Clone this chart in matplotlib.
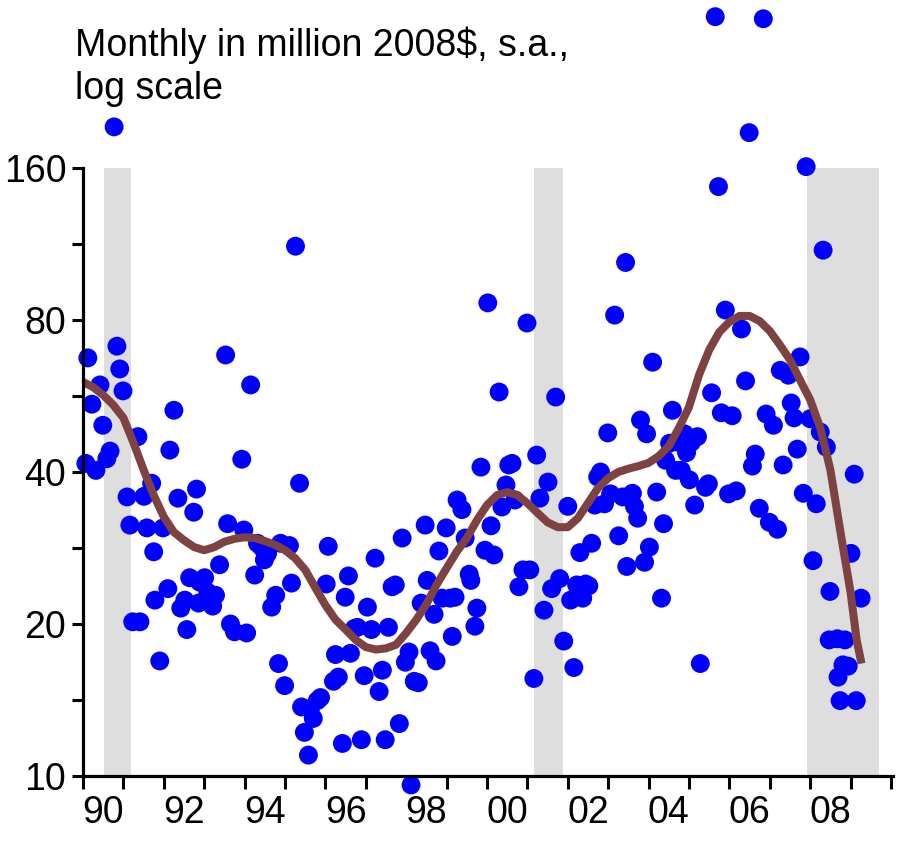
import matplotlib
matplotlib.use("Agg")
import matplotlib.pyplot as plt
from matplotlib.ticker import FixedLocator, NullFormatter, FixedFormatter
import numpy as np

plt.rcParams['font.family'] = ['Liberation Sans', 'DejaVu Sans']

# Monthly observations (decimal year, million 2008$)
obs_year = [
    1990.07, 1990.12, 1990.22, 1990.32, 1990.42, 1990.49, 1990.59, 1990.67, 1990.77, 1990.84,
    1990.91, 1990.99, 1991.09, 1991.16, 1991.23, 1991.36, 1991.41, 1991.51, 1991.58, 1991.70,
    1991.75, 1991.78, 1991.90, 1991.98, 1992.10, 1992.15, 1992.25, 1992.35, 1992.42, 1992.52,
    1992.57, 1992.64, 1992.74, 1992.81, 1992.86, 1992.89, 1993.01, 1993.09, 1993.21, 1993.28,
    1993.38, 1993.53, 1993.58, 1993.65, 1993.75, 1993.93, 1993.98, 1994.05, 1994.15, 1994.25,
    1994.32, 1994.42, 1994.49, 1994.57, 1994.67, 1994.77, 1994.84, 1994.89, 1994.99, 1995.11,
    1995.16, 1995.26, 1995.36, 1995.41, 1995.48, 1995.58, 1995.63, 1995.70, 1995.80, 1995.88,
    1996.02, 1996.07, 1996.20, 1996.25, 1996.32, 1996.42, 1996.49, 1996.57, 1996.62, 1996.72,
    1996.79, 1996.89, 1996.96, 1997.04, 1997.14, 1997.23, 1997.33, 1997.41, 1997.48, 1997.56,
    1997.65, 1997.73, 1997.83, 1997.90, 1997.98, 1998.07, 1998.12, 1998.20, 1998.30, 1998.37,
    1998.47, 1998.52, 1998.59, 1998.69, 1998.74, 1998.81, 1998.89, 1998.99, 1999.09, 1999.14,
    1999.21, 1999.26, 1999.38, 1999.46, 1999.56, 1999.60, 1999.70, 1999.75, 1999.85, 1999.95,
    2000.02, 2000.10, 2000.17, 2000.30, 2000.37, 2000.47, 2000.54, 2000.62, 2000.69, 2000.79,
    2000.89, 2000.99, 2001.06, 2001.16, 2001.23, 2001.31, 2001.41, 2001.51, 2001.60, 2001.70,
    2001.80, 2001.90, 2002.00, 2002.07, 2002.15, 2002.22, 2002.30, 2002.37, 2002.44, 2002.52,
    2002.59, 2002.67, 2002.74, 2002.81, 2002.91, 2002.99, 2003.06, 2003.16, 2003.26, 2003.36,
    2003.43, 2003.46, 2003.51, 2003.60, 2003.65, 2003.73, 2003.80, 2003.90, 2003.95, 2004.02,
    2004.10, 2004.20, 2004.32, 2004.37, 2004.42, 2004.52, 2004.59, 2004.67, 2004.74, 2004.81,
    2004.89, 2004.94, 2005.01, 2005.06, 2005.14, 2005.21, 2005.28, 2005.41, 2005.48, 2005.56,
    2005.65, 2005.73, 2005.80, 2005.90, 2005.98, 2006.07, 2006.17, 2006.30, 2006.40, 2006.49,
    2006.57, 2006.64, 2006.74, 2006.84, 2006.91, 2006.99, 2007.09, 2007.19, 2007.26, 2007.33,
    2007.46, 2007.53, 2007.60, 2007.68, 2007.75, 2007.83, 2007.90, 2008.00, 2008.07, 2008.15,
    2008.25, 2008.32, 2008.40, 2008.49, 2008.47, 2008.69, 2008.74, 2008.67, 2008.86, 2008.81,
    2008.94, 2009.01, 2009.09, 2009.14, 2009.26,
]
obs_value = [
    41.6, 67.3, 54.5, 40.3, 59.5, 49.5, 42.5, 44.0, 193, 71,
    64, 57.9, 35.7, 31.4, 20.2, 47, 20.2, 35.8, 31, 38,
    27.8, 22.3, 16.9, 31, 23.5, 44.2, 53, 35.5, 21.5, 22.3,
    19.5, 24.7, 33.3, 37, 22, 24.2, 24.7, 23.1, 21.7, 22.8,
    26.2, 68.2, 31.6, 20, 19.3, 42.4, 30.7, 19.2, 59.5, 25,
    28.9, 28.4, 26.8, 27.6, 21.6, 22.8, 16.7, 28.9, 15.1, 28.6,
    24.1, 112, 38, 13.7, 12.2, 11, 13.6, 13, 14.1, 14.3,
    24.0, 28.5, 15.4, 17.4, 15.7, 11.6, 22.6, 24.9, 17.5, 19.6,
    19.7, 11.8, 15.8, 21.6, 19.5, 27, 14.7, 16.2, 11.8, 19.7,
    23.7, 23.9, 12.7, 29.6, 16.8, 17.6, 9.6, 15.4, 15.3, 22,
    31.4, 24.4, 17.7, 20.9, 16.9, 27.9, 22.5, 31.0, 22.5, 18.9,
    22.6, 35.2, 33.7, 29.6, 25.1, 24.4, 19.8, 21.5, 40.9, 28,
    86.5, 31.3, 27.4, 57.6, 34.1, 37.7, 41.3, 41.6, 35.2, 23.7,
    25.6, 78.9, 25.6, 15.6, 43.2, 35.5, 21.3, 38.2, 23.5, 56.3,
    24.6, 18.5, 34.2, 22.3, 16.4, 23.9, 27.7, 22.5, 24, 23.8,
    28.9, 34.4, 39.1, 40, 34.6, 47.8, 36.2, 81.8, 29.9, 35.7,
    104, 26.0, 35.7, 36.3, 34.2, 32.4, 50.7, 26.5, 47.6, 28.4,
    66, 36.5, 22.5, 31.6, 42.2, 45.6, 53, 40.3, 45.8, 40.3,
    47.6, 43.7, 38.6, 45.8, 34.4, 47, 16.7, 37.3, 37.9, 57.4,
    319, 147, 52.4, 83.7, 36.2, 51.7, 36.7, 76.8, 60.6, 188,
    41.1, 43.4, 33.9, 316, 52.1, 31.8, 49.5, 30.8, 63.6, 41.3,
    62.2, 54.8, 51.2, 44.4, 67.6, 36.3, 161, 51, 26.7, 34.6,
    48, 110, 44.8, 23.2, 18.6, 15.7, 14.1, 18.7, 18.6, 16.6,
    16.5, 27.6, 39.6, 14.1, 22.5,
]

# Smoothed trend (quarterly readings)
trend_year = [
    1990.00, 1990.25, 1990.50, 1990.75, 1991.00, 1991.25, 1991.50, 1991.75,
    1992.00, 1992.25, 1992.50, 1992.75, 1993.00, 1993.25, 1993.50, 1993.75,
    1994.00, 1994.25, 1994.50, 1994.75, 1995.00, 1995.25, 1995.50, 1995.75,
    1996.00, 1996.25, 1996.50, 1996.75, 1997.00, 1997.25, 1997.50, 1997.75,
    1998.00, 1998.25, 1998.50, 1998.75, 1999.00, 1999.25, 1999.50, 1999.75,
    2000.00, 2000.25, 2000.50, 2000.75, 2001.00, 2001.25, 2001.50, 2001.75,
    2002.00, 2002.25, 2002.50, 2002.75, 2003.00, 2003.25, 2003.50, 2003.75,
    2004.00, 2004.25, 2004.50, 2004.75, 2005.00, 2005.25, 2005.50, 2005.75,
    2006.00, 2006.25, 2006.50, 2006.75, 2007.00, 2007.25, 2007.50, 2007.75,
    2008.00, 2008.25, 2008.50, 2008.75, 2009.00, 2009.15, 2009.27,
]
trend_value = [
    60.3, 58.9, 56.8, 54.3, 51.2, 45.7, 40.4, 36.0,
    32.6, 30.4, 29.3, 28.4, 28.0, 28.4, 29.1, 29.5,
    29.7, 29.6, 29.2, 28.7, 28.0, 27.0, 25.6, 23.6,
    21.8, 20.4, 19.5, 18.6, 18.0, 17.8, 17.9, 18.2,
    19.2, 20.4, 21.9, 23.9, 25.8, 27.8, 29.6, 32.1,
    34.4, 36.0, 36.5, 36.0, 34.7, 33.2, 31.8, 31.1,
    31.1, 32.4, 34.7, 37.2, 38.9, 40.0, 40.6, 41.1,
    41.7, 43.0, 45.0, 48.9, 53.8, 62.3, 69.8, 75.7,
    79.3, 81.5, 81.5, 79.6, 76.1, 71.4, 66.7, 60.8,
    55.6, 48.9, 40.4, 30.4, 23.1, 18.6, 16.7,
]

# Recession periods
recession_start = [1990.52, 2001.17, 2007.92]
recession_end = [1991.20, 2001.87, 2009.70]

y_ticks = [10, 20, 40, 80, 160]
y_minor = [14.14, 28.28, 56.57, 113.1]
year_labels = ['90', '92', '94', '96', '98', '00', '02', '04', '06', '08']

fig = plt.figure(figsize=(8.98, 8.41), dpi=100)
ax = fig.add_axes([83 / 898, 65 / 841, 810 / 898, 608 / 841])

for s, e in zip(recession_start, recession_end):
    ax.axvspan(s, e, color='#dedede', lw=0, zorder=0)

ax.scatter(obs_year, obs_value, s=185, color='#0000ff', edgecolors='none',
           zorder=3, clip_on=False)
ax.plot(trend_year, trend_value, color='#7f4242', lw=5.8, zorder=4,
        solid_capstyle='butt', solid_joinstyle='round')

ax.set_yscale('log')
ax.set_ylim(10, 160)
ax.set_xlim(1990, 2010.05)

ax.yaxis.set_major_locator(FixedLocator(y_ticks))
ax.yaxis.set_major_formatter(FixedFormatter([str(v) for v in y_ticks]))
ax.yaxis.set_minor_locator(FixedLocator(y_minor))
ax.yaxis.set_minor_formatter(NullFormatter())

year_starts = list(range(1990, 2011))
label_pos = [1990.5 + 2 * i for i in range(len(year_labels))]
ax.xaxis.set_major_locator(FixedLocator(year_starts))
ax.xaxis.set_major_formatter(NullFormatter())
ax.xaxis.set_minor_locator(FixedLocator(label_pos))
ax.xaxis.set_minor_formatter(FixedFormatter(year_labels))

for side in ['top', 'right']:
    ax.spines[side].set_visible(False)
for side in ['left', 'bottom']:
    ax.spines[side].set_linewidth(2.3)
    ax.spines[side].set_zorder(5)

ax.tick_params(axis='y', which='both', direction='out', length=8, width=2.2,
               labelsize=27, pad=4, color='black')
ax.tick_params(axis='x', which='major', direction='out', length=9, width=2.2)
ax.tick_params(axis='x', which='minor', length=0, labelsize=27, pad=14)

fig.text(75 / 898, 1 - 56 / 841, 'Monthly in million 2008$, s.a.,',
         fontsize=27, va='baseline', ha='left')
fig.text(75 / 898, 1 - 99 / 841, 'log scale',
         fontsize=27, va='baseline', ha='left')

fig.savefig('out.png', dpi=100)
